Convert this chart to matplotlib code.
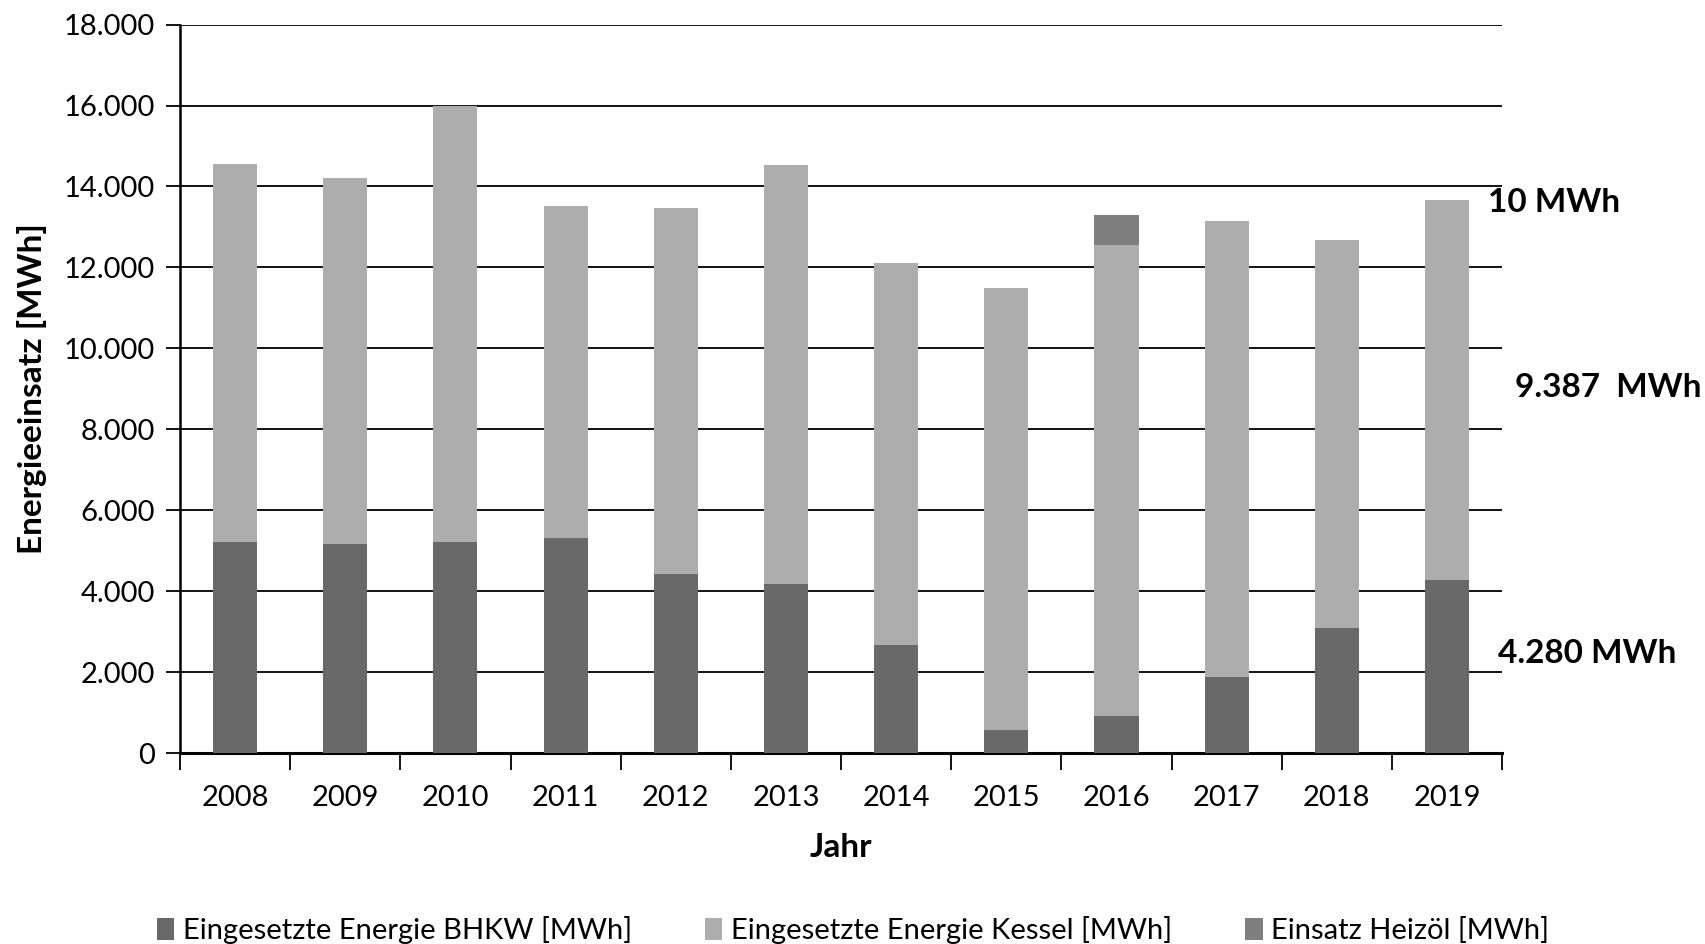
import matplotlib
matplotlib.use("Agg")
import matplotlib.pyplot as plt
import numpy as np

plt.rcParams['font.family'] = ['Lato', 'DejaVu Sans']

years = ['2008', '2009', '2010', '2011', '2012', '2013',
         '2014', '2015', '2016', '2017', '2018', '2019']
bhkw = [5210, 5180, 5230, 5330, 4430, 4190, 2680, 580, 930, 1880, 3100, 4280]
kessel = [9350, 9030, 10750, 8190, 9030, 10330, 9420, 10910, 11630, 11270, 9580, 9387]
heizoel = [0, 0, 0, 0, 0, 0, 0, 0, 730, 0, 0, 10]

c_bhkw = '#696969'
c_kessel = '#adadad'
c_heiz = '#7f7f7f'

fig = plt.figure(figsize=(17.06, 9.44), dpi=100)
ax = fig.add_axes([0.1055, 0.202, 0.775, 0.772])

x = np.arange(len(years))
bhkw = np.array(bhkw)
kessel = np.array(kessel)
heizoel = np.array(heizoel)
w = 0.4
ax.bar(x, bhkw, w, color=c_bhkw, label='Eingesetzte Energie BHKW [MWh]', zorder=3)
ax.bar(x, kessel, w, bottom=bhkw, color=c_kessel,
       label='Eingesetzte Energie Kessel [MWh]', zorder=3)
ax.bar(x, heizoel, w, bottom=bhkw + kessel, color=c_heiz,
       label='Einsatz Heizöl [MWh]', zorder=3)

ax.set_xlim(-0.5, len(years) - 0.5)
ax.set_ylim(0, 18000)
ax.set_yticks(range(0, 18001, 2000))
ax.set_yticklabels(['{:,}'.format(v).replace(',', '.') for v in range(0, 18001, 2000)])
ax.yaxis.grid(True, color='black', linewidth=1.3, zorder=0)
ax.set_axisbelow(True)

ax.set_xticks(x)
ax.set_xticklabels(years)
ax.set_xticks(np.arange(-0.5, len(years), 1), minor=True)
ax.tick_params(axis='x', which='major', length=0, pad=23, labelsize=21)
ax.tick_params(axis='x', which='minor', length=12, width=1.3, direction='out')
ax.tick_params(axis='y', length=10, width=1.3, pad=8, labelsize=21)

for s in ['top', 'right']:
    ax.spines[s].set_visible(False)
ax.spines['left'].set_linewidth(1.8)
ax.spines['bottom'].set_linewidth(2.2)

ax.set_xlabel('Jahr', fontsize=24, fontweight='bold', labelpad=16)
ax.set_ylabel('Energieeinsatz [MWh]', fontsize=24, fontweight='bold', labelpad=12)

fig.text(0.872, 0.785, '10 MWh', fontsize=24, fontweight='bold', va='center')
fig.text(0.888, 0.589, '9.387  MWh', fontsize=24, fontweight='bold', va='center')
fig.text(0.878, 0.308, '4.280 MWh', fontsize=24, fontweight='bold', va='center')

fig.legend(loc='lower center', bbox_to_anchor=(0.5, -0.028), ncol=3, frameon=False,
           fontsize=21, handlelength=0.6, handleheight=0.8, handletextpad=0.3,
           columnspacing=2.5)

fig.savefig('out.png', dpi=100)
